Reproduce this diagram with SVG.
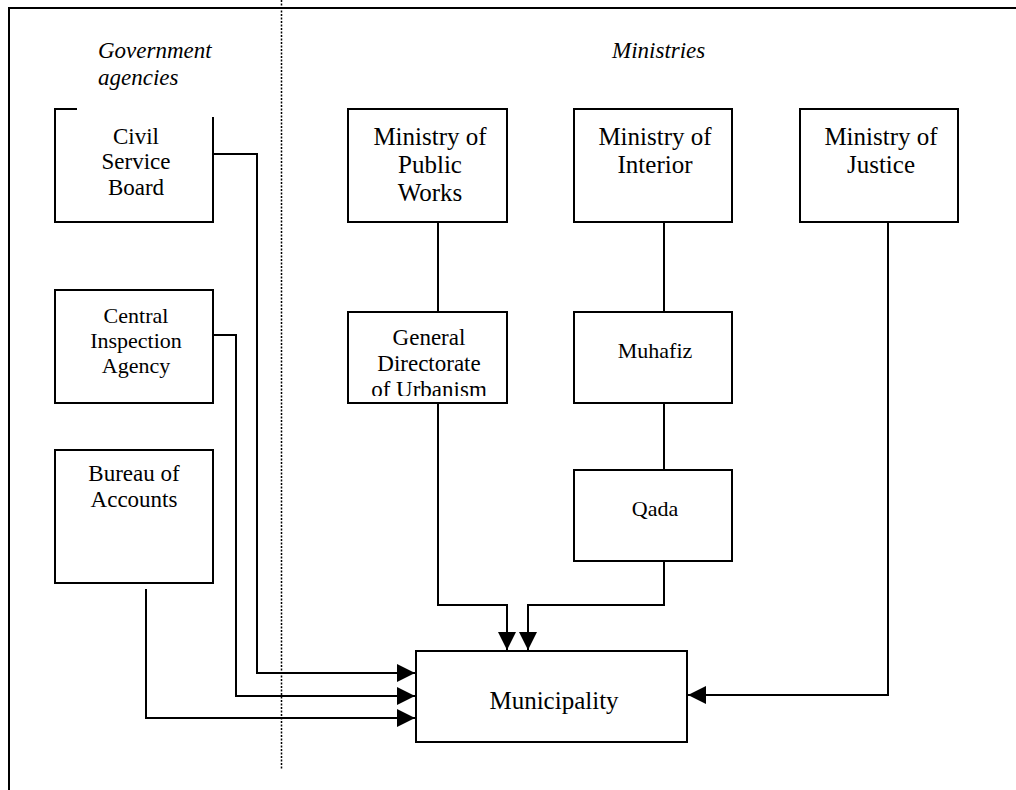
<svg xmlns="http://www.w3.org/2000/svg" width="1016" height="790" viewBox="0 0 1016 790" font-family="Liberation Serif, Times New Roman, DejaVu Serif, serif">
<style>
.box{fill:#fff;stroke:#000;stroke-width:2}
.ln{fill:none;stroke:#000;stroke-width:2}
text{font-family:'Liberation Serif','Times New Roman','DejaVu Serif',serif;font-size:23px;fill:#000;text-anchor:middle}
.it{font-style:italic;text-anchor:start}
.big{font-size:25px}
.sm{font-size:22px}
</style>
<defs>
<marker id="ah" viewBox="0 0 18 18" refX="18" refY="9" markerWidth="18" markerHeight="18" markerUnits="userSpaceOnUse" orient="auto">
<path d="M0,0 L18,9 L0,18 Z" fill="#000"/>
</marker>
<clipPath id="gdclip"><rect x="348" y="312" width="159" height="84"/></clipPath>
</defs>
<rect width="1016" height="790" fill="#fff"/>
<g id="frame">
<path d="M9,790 V8 H1016" fill="none" stroke="#000" stroke-width="2"/>
<line x1="281.5" y1="0" x2="281.5" y2="770" stroke="#000" stroke-width="1.5" stroke-dasharray="2,1.5"/>
</g>
<g id="headings">
<text class="it" x="98" y="58">Government</text>
<text class="it" x="98" y="85">agencies</text>
<text class="it" x="612" y="58">Ministries</text>
</g>
<g id="connectors">
<polyline class="ln" points="213,154 257,154 257,673 415,673" marker-end="url(#ah)"/>
<polyline class="ln" points="213,335 236,335 236,696 415,696" marker-end="url(#ah)"/>
<polyline class="ln" points="146,589 146,718 415,718" marker-end="url(#ah)"/>
<polyline class="ln" points="438,403 438,605 507,605 507,650" marker-end="url(#ah)"/>
<polyline class="ln" points="664,561 664,605 528,605 528,650" marker-end="url(#ah)"/>
<polyline class="ln" points="888,222 888,695 688,695" marker-end="url(#ah)"/>
<line class="ln" x1="438" y1="222" x2="438" y2="312"/>
<line class="ln" x1="664" y1="222" x2="664" y2="312"/>
<line class="ln" x1="664" y1="403" x2="664" y2="470"/>
</g>
<g id="civil-service-board">
<path class="ln" d="M77,109 H55 V222 H213 V117"/>
<text x="136" y="144">Civil</text>
<text x="136" y="169">Service</text>
<text x="136" y="195">Board</text>
</g>
<g id="central-inspection-agency">
<rect class="box" x="55" y="290" width="158" height="113"/>
<text class="sm" x="136" y="323">Central</text>
<text class="sm" x="136" y="348">Inspection</text>
<text class="sm" x="136" y="373">Agency</text>
</g>
<g id="bureau-of-accounts">
<rect class="box" x="55" y="450" width="158" height="133"/>
<text x="134" y="481">Bureau of</text>
<text x="134" y="507">Accounts</text>
</g>
<g id="ministry-public-works">
<rect class="box" x="348" y="109" width="159" height="113"/>
<text class="big" x="430" y="145">Ministry of</text>
<text class="big" x="430" y="173">Public</text>
<text class="big" x="430" y="201">Works</text>
</g>
<g id="ministry-interior">
<rect class="box" x="574" y="109" width="158" height="113"/>
<text class="big" x="655" y="145">Ministry of</text>
<text class="big" x="655" y="173">Interior</text>
</g>
<g id="ministry-justice">
<rect class="box" x="800" y="109" width="158" height="113"/>
<text class="big" x="881" y="145">Ministry of</text>
<text class="big" x="881" y="173">Justice</text>
</g>
<g id="general-directorate">
<rect class="box" x="348" y="312" width="159" height="91"/>
<g clip-path="url(#gdclip)">
<text x="429" y="345">General</text>
<text x="429" y="371">Directorate</text>
<text x="429" y="397">of Urbanism</text>
</g>
</g>
<g id="muhafiz">
<rect class="box" x="574" y="312" width="158" height="91"/>
<text class="sm" x="655" y="358">Muhafiz</text>
</g>
<g id="qada">
<rect class="box" x="574" y="470" width="158" height="91"/>
<text class="sm" x="655" y="516">Qada</text>
</g>
<g id="municipality">
<rect class="box" x="416" y="651" width="271" height="91"/>
<text x="554" y="709" style="font-size:25px">Municipality</text>
</g>
</svg>
